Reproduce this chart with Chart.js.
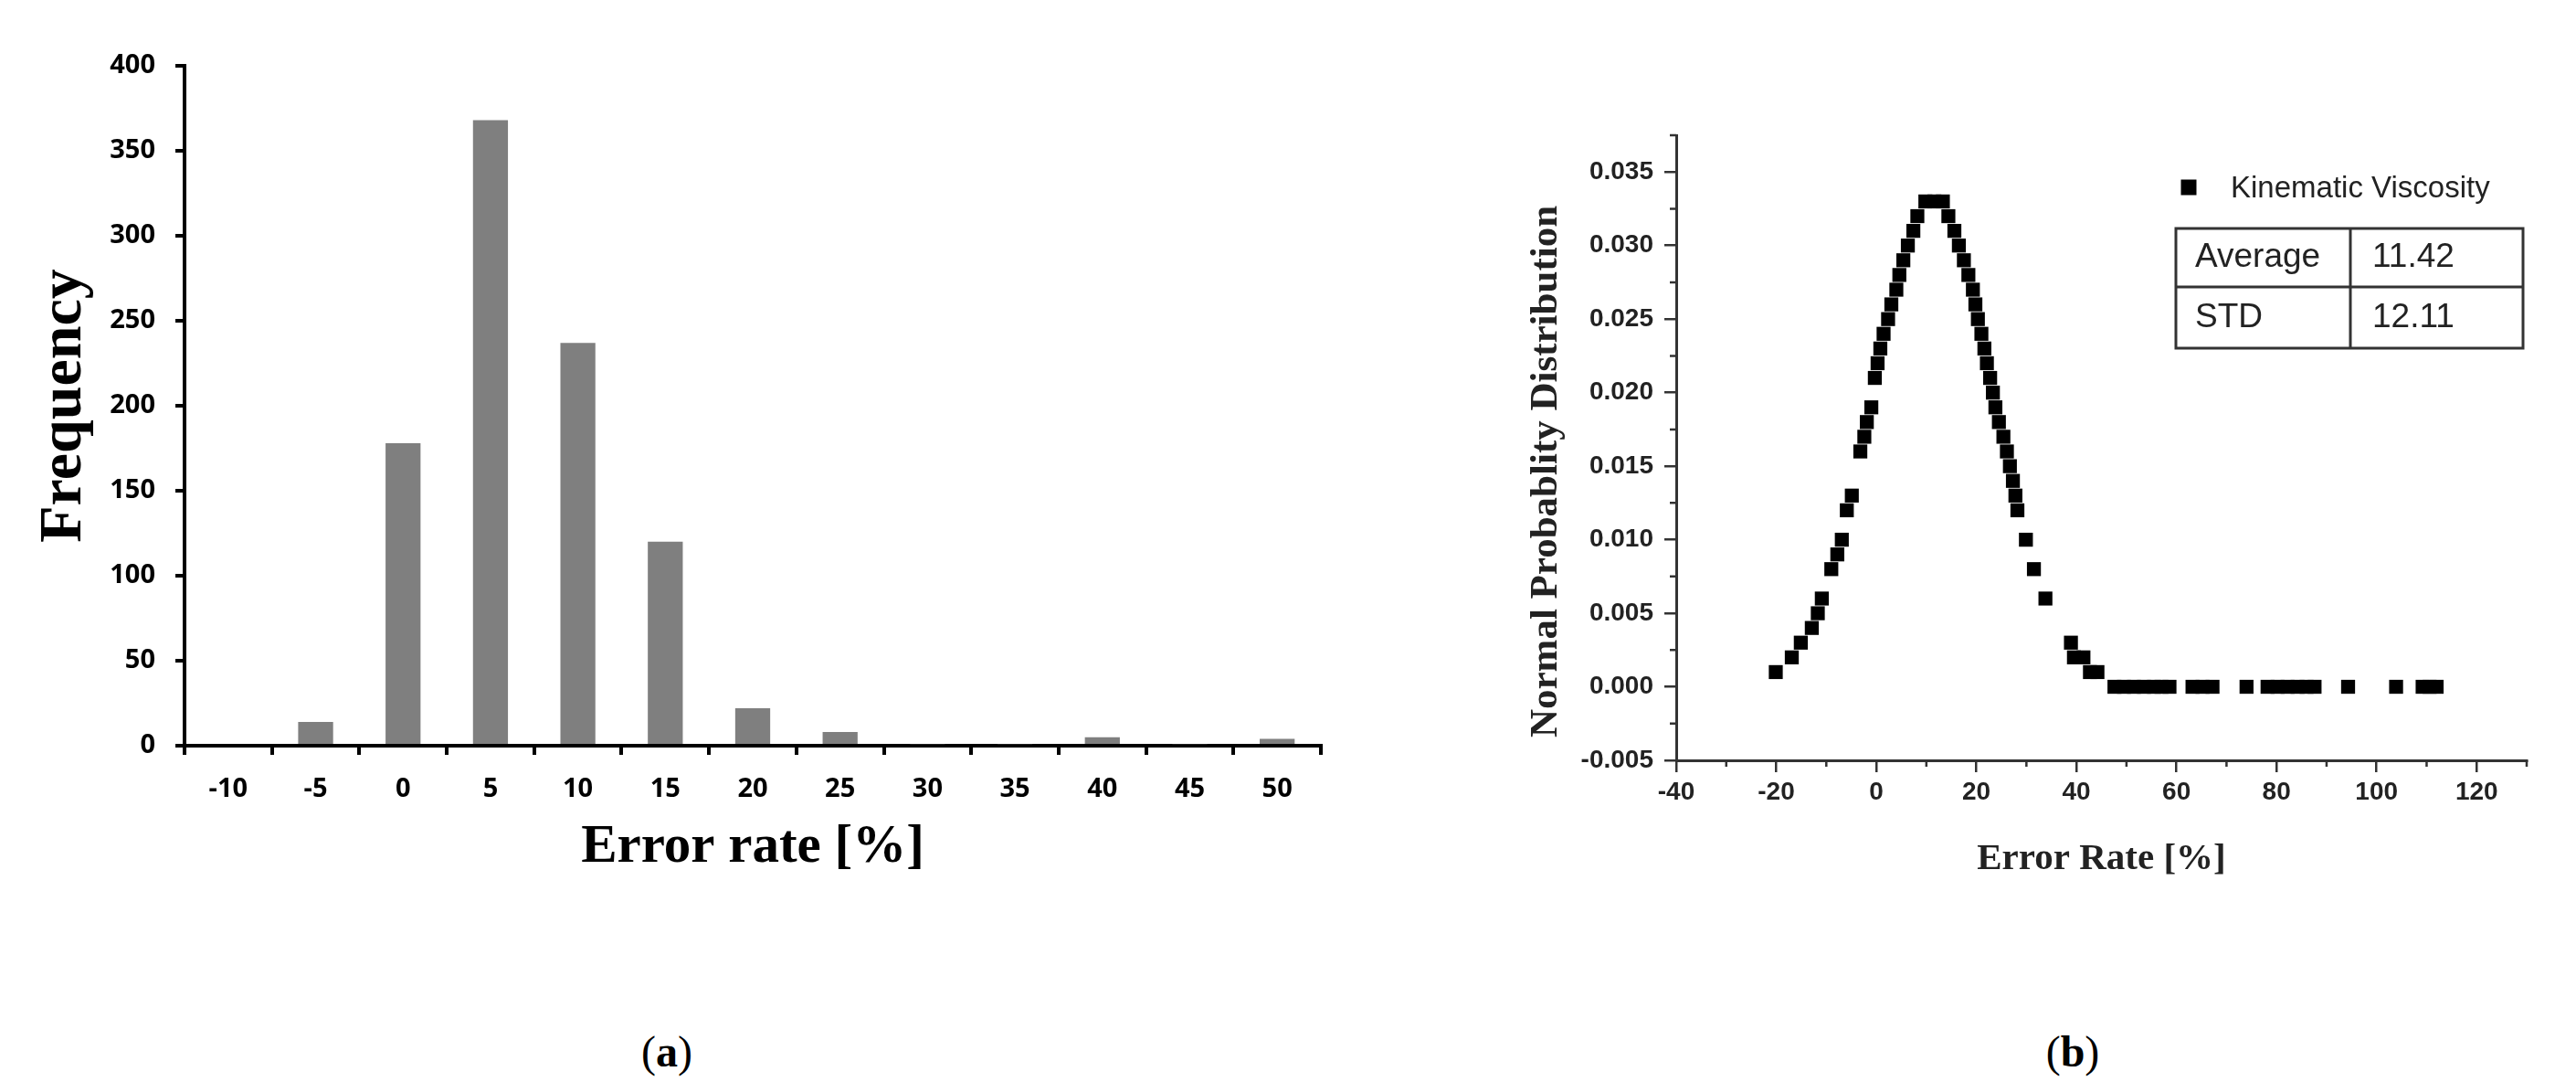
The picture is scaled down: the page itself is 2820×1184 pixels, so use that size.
<!DOCTYPE html>
<html>
<head>
<meta charset="utf-8">
<script src="https://cdn.jsdelivr.net/npm/chart.js@4.4.1/dist/chart.umd.min.js"></script>
<style>
  html, body { margin: 0; padding: 0; background: #fff; }
  body { width: 2820px; height: 1184px; position: relative; overflow: hidden; }
  #hist { position: absolute; left: 0; top: 0; }
  #norm { position: absolute; left: 1600px; top: 0; }
  .cap { position: absolute; top: 1127px; font-family: "Liberation Serif", serif; font-size: 48px; line-height: 48px; color: #000; transform: translateX(-50%); }
</style>
</head>
<body>
<canvas id="hist" width="1500" height="1000"></canvas>
<canvas id="norm" width="1220" height="1000"></canvas>
<div class="cap" style="left:730px">(<b>a</b>)</div>
<div class="cap" style="left:2269px">(<b>b</b>)</div>
<script>
// (a) histogram
const rateBins = ["-10", "-5", "0", "5", "10", "15", "20", "25", "30", "35", "40", "45", "50"];
const binCounts = [0, 14, 178, 368, 237, 120, 22, 8, 1, 1, 5, 1, 4];
const countTicks = [0, 50, 100, 150, 200, 250, 300, 350, 400];

// (b) normal probability distribution
const normX = [
  -20.1, -16.9, -15.1, -12.9, -11.7, -10.9, -9.0, -7.8, -6.9, -5.9, -4.9,
  -3.2, -2.4, -1.9, -1.0, -0.3, 0.25, 0.8, 1.45, 2.35, 3.0, 4.0, 4.6, 5.4,
  6.3, 7.4, 8.2, 9.8, 11.6, 13.3, 14.4, 15.6, 16.5, 17.5, 18.4, 19.3, 19.8,
  20.3, 21.0, 21.6, 22.1, 22.75, 23.3, 23.8, 24.5, 25.4, 26.1, 26.7, 27.3,
  27.8, 28.2, 29.9, 31.5, 33.8, 38.9, 39.5, 41.4, 42.7, 44.2,
  47.6, 49.5, 51.5, 53.5, 55.5, 57.0, 58.6, 63.2, 65.2, 67.2, 74.0,
  78.2, 80.2, 82.2, 84.2, 86.0, 87.6, 94.3, 103.9, 109.2, 110.6, 112.0
];
const normY = [
  0.001, 0.002, 0.003, 0.004, 0.005, 0.006, 0.008, 0.009, 0.010, 0.012, 0.013,
  0.016, 0.017, 0.018, 0.019, 0.021, 0.022, 0.023, 0.024, 0.025, 0.026, 0.027, 0.028, 0.029,
  0.030, 0.031, 0.032, 0.033, 0.033, 0.033, 0.032, 0.031, 0.030, 0.029, 0.028, 0.027, 0.026,
  0.025, 0.024, 0.023, 0.022, 0.021, 0.020, 0.019, 0.018, 0.017, 0.016, 0.015, 0.014,
  0.013, 0.012, 0.010, 0.008, 0.006, 0.003, 0.002, 0.002, 0.001, 0.001,
  0, 0, 0, 0, 0, 0, 0, 0, 0, 0, 0,
  0, 0, 0, 0, 0, 0, 0, 0, 0, 0, 0
];
const rateTicks = [-40, -20, 0, 20, 40, 60, 80, 100, 120];
const rateMinor = [-30, -10, 10, 30, 50, 70, 90, 110, 130];
const probTicks = [-0.005, 0, 0.005, 0.010, 0.015, 0.020, 0.025, 0.030, 0.035];
const probMinor = [-0.0025, 0.0025, 0.0075, 0.0125, 0.0175, 0.0225, 0.0275, 0.0325, 0.0375];
const seriesName = "Kinematic Viscosity";
const statNames = ["Average", "STD"];
const statValues = ["11.42", "12.11"];

const tickFontA = { family: "'Open Sans', sans-serif", size: 29, weight: "bold" };
const tickFontB = { family: "'Liberation Sans', Arial, sans-serif", size: 28, weight: "bold" };
const inkB = "#222";

new Chart(document.getElementById("hist").getContext("2d"), {
  type: "bar",
  data: {
    labels: rateBins,
    datasets: [{
      data: binCounts,
      backgroundColor: "#7f7f7f",
      categoryPercentage: 1,
      barPercentage: 0.4,
    }],
  },
  options: {
    responsive: false,
    animation: false,
    events: [],
    layout: { padding: { top: 72, right: 54, left: 0, bottom: 0 } },
    plugins: { legend: { display: false }, tooltip: { enabled: false } },
    scales: {
      x: {
        afterFit: (s) => { s.height = 184; },
        grid: { drawOnChartArea: false, drawTicks: true, tickLength: 10, color: "#000", lineWidth: 4 },
        border: { display: true, color: "#000", width: 4 },
        ticks: { color: "#000", font: tickFontA, padding: 20, maxRotation: 0 },
        title: {
          display: true, text: "Error rate [%]", color: "#000",
          font: { family: "'Liberation Serif', serif", size: 59, weight: "bold" },
          padding: { top: 0, bottom: 37 },
        },
      },
      y: {
        min: 0, max: 400,
        afterFit: (s) => { s.width = 202; },
        afterBuildTicks: (s) => { s.ticks = countTicks.map((v) => ({ value: v })); },
        grid: { drawOnChartArea: false, drawTicks: true, tickLength: 10, color: "#000", lineWidth: 4 },
        border: { display: true, color: "#000", width: 4 },
        ticks: { color: "#000", font: tickFontA, padding: 22 },
        title: {
          display: true, text: "Frequency", color: "#000",
          font: { family: "'Liberation Serif', serif", size: 66, weight: "bold" },
          padding: { top: 31, bottom: 0 },
        },
      },
    },
  },
});

// minor ticks, legend, stats table and y title for chart (b)
const normExtras = {
  id: "normExtras",
  afterDraw(chart) {
    const { ctx, scales: { x, y } } = chart;
    ctx.save();
    ctx.strokeStyle = "#333";
    ctx.lineWidth = 2.5;
    ctx.beginPath();
    rateMinor.forEach((v) => {
      const px = x.getPixelForValue(v);
      ctx.moveTo(px, y.bottom);
      ctx.lineTo(px, y.bottom + 7);
    });
    probMinor.forEach((v) => {
      const py = y.getPixelForValue(v);
      ctx.moveTo(x.left, py);
      ctx.lineTo(x.left - 7, py);
    });
    ctx.stroke();

    // y title
    ctx.fillStyle = inkB;
    ctx.font = "bold 43px 'Liberation Serif', serif";
    ctx.textAlign = "center";
    ctx.textBaseline = "middle";
    ctx.translate(93, 516);
    ctx.rotate(-Math.PI / 2);
    ctx.fillText("Normal Probablity Distribution", 0, 0);
    ctx.restore();

    // legend
    ctx.save();
    ctx.fillStyle = "#000";
    ctx.fillRect(796 - 8.5, 205 - 8.5, 17, 17);
    ctx.fillStyle = inkB;
    ctx.font = "33px 'Liberation Sans', Arial, sans-serif";
    ctx.textAlign = "left";
    ctx.textBaseline = "middle";
    ctx.fillText(chart.data.datasets[0].label, 842, 207);

    // table
    const tx = 782, ty = 250, tw = 380, th = 131, split = 191, rowH = 64;
    ctx.strokeStyle = "#333";
    ctx.lineWidth = 3;
    ctx.strokeRect(tx, ty, tw, th);
    ctx.beginPath();
    ctx.moveTo(tx, ty + rowH); ctx.lineTo(tx + tw, ty + rowH);
    ctx.moveTo(tx + split, ty); ctx.lineTo(tx + split, ty + th);
    ctx.stroke();
    ctx.font = "37px 'Liberation Sans', Arial, sans-serif";
    const rowMid = [ty + rowH / 2, ty + rowH + (th - rowH) / 2];
    statNames.forEach((n, i) => {
      ctx.fillText(n, tx + 21, rowMid[i]);
      ctx.fillText(statValues[i], tx + split + 24, rowMid[i]);
    });
    ctx.restore();
  },
};

new Chart(document.getElementById("norm").getContext("2d"), {
  type: "scatter",
  data: {
    datasets: [{
      label: seriesName,
      data: normX.map((v, i) => ({ x: v, y: normY[i] })),
      pointStyle: "rect",
      pointRadius: 10.8,
      backgroundColor: "#000",
      borderColor: "#000",
      borderWidth: 0,
    }],
  },
  options: {
    responsive: false,
    animation: false,
    events: [],
    layout: { padding: { top: 148, right: 54, left: 0, bottom: 0 } },
    plugins: { legend: { display: false }, tooltip: { enabled: false } },
    scales: {
      x: {
        type: "linear", min: -40, max: 130,
        afterFit: (s) => { s.height = 168; },
        afterBuildTicks: (s) => { s.ticks = rateTicks.map((v) => ({ value: v })); },
        grid: { drawOnChartArea: false, drawTicks: true, tickLength: 13, color: "#333", lineWidth: 2.5 },
        border: { display: true, color: "#333", width: 3 },
        ticks: { color: inkB, font: tickFontB, padding: 5, maxRotation: 0 },
        title: {
          display: true, text: "Error Rate [%]", color: inkB,
          font: { family: "'Liberation Serif', serif", size: 41, weight: "bold" },
          padding: { top: 0, bottom: 35 },
        },
      },
      y: {
        min: -0.005, max: 0.0375,
        afterFit: (s) => { s.width = 235; },
        afterBuildTicks: (s) => { s.ticks = probTicks.map((v) => ({ value: v })); },
        grid: { drawOnChartArea: false, drawTicks: true, tickLength: 13, color: "#333", lineWidth: 2.5 },
        border: { display: true, color: "#333", width: 3 },
        ticks: { color: inkB, font: tickFontB, padding: 12, callback: (v) => v.toFixed(3) },
      },
    },
  },
  plugins: [normExtras],
});
</script>
</body>
</html>
